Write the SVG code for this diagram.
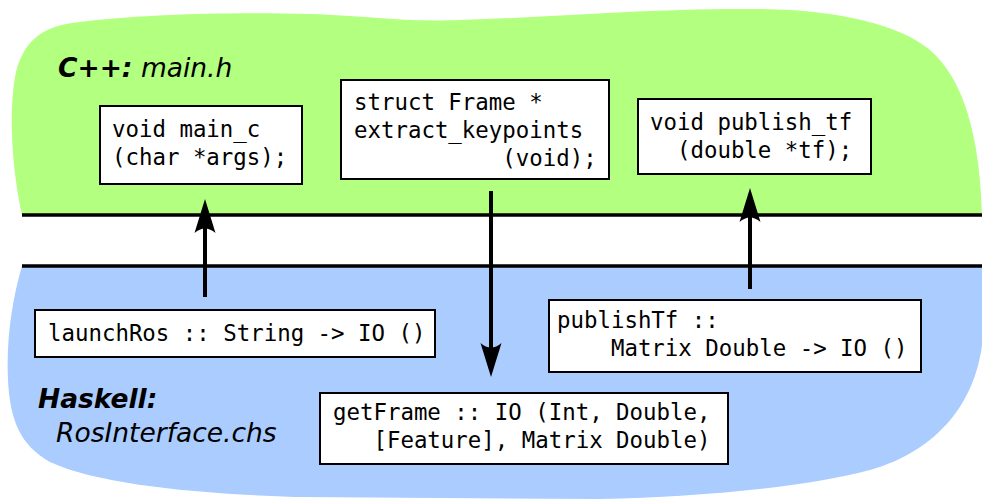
<svg xmlns="http://www.w3.org/2000/svg" width="982" height="500" viewBox="0 0 982 500">
<style>
.box{fill:#fff;stroke:#000;stroke-width:2}
.code{font-family:"DejaVu Sans Mono","Liberation Mono",monospace;font-size:22.4px;fill:#000;white-space:pre}
.title{font-family:"DejaVu Sans","Liberation Sans",sans-serif;font-size:26.5px;font-style:italic;fill:#000}
.sep{stroke:#000;stroke-width:3.5;fill:none}
.conn{stroke:#000;stroke-width:4;fill:none;marker-end:url(#ah)}
</style>
<defs>
<marker id="ah" markerUnits="userSpaceOnUse" viewBox="-16 -12 40 24" markerWidth="40" markerHeight="24" refX="0" refY="0" orient="auto" overflow="visible">
<path d="M22,0 L-12,-10.5 Q-3,0 -12,10.5 Z" fill="#000"/>
</marker>
</defs>
<g id="cpp-region">
<path d="M22,215 C12,170 8,110 16,72 C24,42 40,28 72,23 C140,14 230,12 310,14 C370,16 400,22 460,20 C560,17 650,8 760,9 C840,10 900,25 930,50 C965,80 980,140 982,215 Z" fill="#b3ff80"/>
<text class="title" x="58" y="77"><tspan font-weight="bold">C++:</tspan> main.h</text>
</g>
<g id="haskell-region">
<path d="M22,266 C12,300 6,340 8,380 C10,420 20,445 50,462 C100,485 200,494 300,497 L600,499 C700,497 800,488 870,470 C940,450 975,400 982,345 L982,266 Z" fill="#aaccff"/>
<text class="title" x="38" y="408" font-weight="bold">Haskell:</text>
<text class="title" x="56" y="442">RosInterface.chs</text>
</g>
<g id="separators">
<line class="sep" x1="22" y1="215" x2="982" y2="215"/>
<line class="sep" x1="22" y1="266" x2="982" y2="266"/>
</g>
<g id="main_c">
<rect class="box" x="100" y="106" width="202" height="78"/>
<text class="code" x="112" y="137">void main_c</text>
<text class="code" x="112" y="165">(char *args);</text>
</g>
<g id="extract_keypoints">
<rect class="box" x="341" y="80" width="268" height="99"/>
<text class="code" x="354" y="110">struct Frame *</text>
<text class="code" x="354" y="138">extract_keypoints</text>
<text class="code" x="354" y="166">           (void);</text>
</g>
<g id="publish_tf">
<rect class="box" x="638" y="99" width="233" height="75"/>
<text class="code" x="650" y="130">void publish_tf</text>
<text class="code" x="650" y="158">  (double *tf);</text>
</g>
<g id="launchRos">
<rect class="box" x="35" y="310" width="400" height="47"/>
<text class="code" x="48" y="341">launchRos :: String -&gt; IO ()</text>
</g>
<g id="publishTf">
<rect class="box" x="549" y="300" width="372" height="72"/>
<text class="code" x="557" y="328">publishTf ::</text>
<text class="code" x="557" y="356">    Matrix Double -&gt; IO ()</text>
</g>
<g id="getFrame">
<rect class="box" x="320" y="393" width="408" height="71"/>
<text class="code" x="333" y="420">getFrame :: IO (Int, Double,</text>
<text class="code" x="333" y="448">   [Feature], Matrix Double)</text>
</g>
<g id="connectors">
<line class="conn" x1="205" y1="297" x2="205" y2="221"/>
<line class="conn" x1="491" y1="191" x2="491" y2="355"/>
<line class="conn" x1="750" y1="289" x2="750" y2="210"/>
</g>
</svg>
